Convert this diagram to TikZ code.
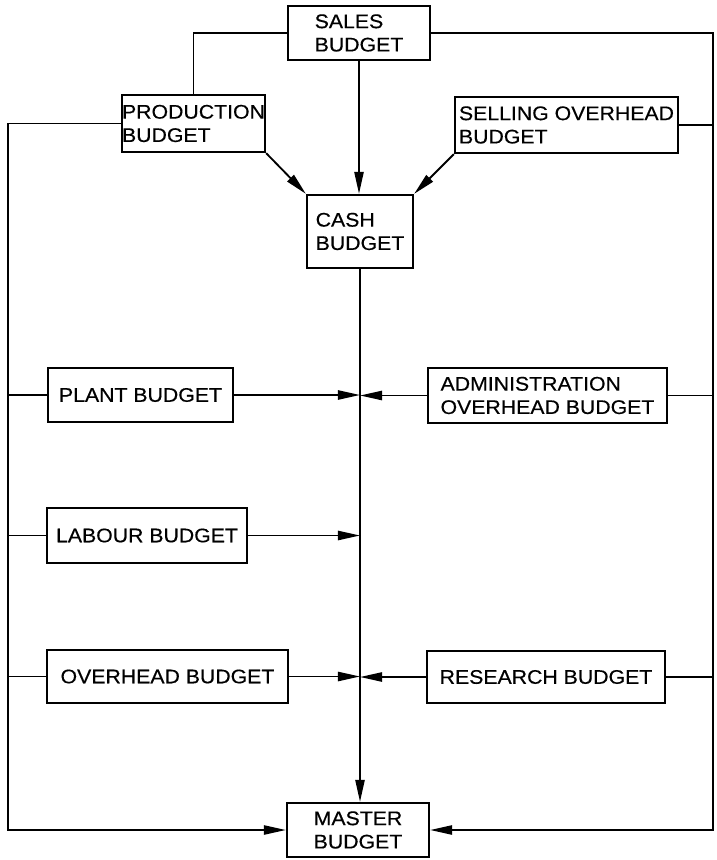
\documentclass[tikz,border=0pt]{standalone}
\usepackage{fontspec}
\setmainfont{Liberation Sans}[FakeStretch=1.08,FakeBold=0.4]
\usepackage{tikz}
\usetikzlibrary{arrows.meta}

\begin{document}
\begin{tikzpicture}[
x=0.025cm,y=-0.025cm,
budgetbox/.style={
rectangle,
draw=black,
line width=1.6pt,
inner sep=0pt,
align=left,
font=\fontsize{14}{16.6}\selectfont},
boxsize/.style 2 args={minimum width=#1cm,minimum height=#2cm},
myline/.style={line width=1.3pt},
myarrow/.style={line width=1.3pt,-{Triangle[length=5.5mm,width=2.3mm]}}
]
\useasboundingbox (0,0) rectangle (716,860);
\node[budgetbox,boxsize={3.55}{1.35}] (sales) at (359,33) {SALES\\BUDGET};
      \node[budgetbox,boxsize={3.575}{1.425}] (prod) at (193.5,123.5) {PRODUCTION\\BUDGET};
      \node[budgetbox,boxsize={5.575}{1.4}] (sell) at (566.5,125) {SELLING OVERHEAD\\BUDGET};
      \node[budgetbox,boxsize={2.65}{1.825}] (cash) at (360,231.5) {CASH\\BUDGET};
      \node[budgetbox,boxsize={4.625}{1.35}] (plant) at (140.5,395) {PLANT BUDGET};
      \node[budgetbox,boxsize={5.975}{1.375}] (admin) at (547.5,395.5) {ADMINISTRATION\\OVERHEAD BUDGET};
      \node[budgetbox,boxsize={5.0}{1.375}] (labour) at (147,535.5) {LABOUR BUDGET};
      \node[budgetbox,boxsize={6.025}{1.325}] (ovh) at (167.5,676.5) {OVERHEAD BUDGET};
      \node[budgetbox,boxsize={5.95}{1.3}] (research) at (546,677) {RESEARCH BUDGET};
      \node[budgetbox,boxsize={3.55}{1.35},align=center] (master) at (358,830) {MASTER\\BUDGET};
      \coordinate (lrail) at (8,830);
      \coordinate (rrail) at (713,830);
      % outer rails
      \draw[myline] (sales.west) -| (prod.north);
      \draw[myarrow] (sales.east) -| (rrail) -- (master.east);
      \draw[myarrow] (prod.west) -| (lrail) -- (master.west);
      \draw[myline] (sell.east) -- (sell.east -| rrail);
      % into cash budget
      \draw[myarrow] (sales.south) -- (sales.south |- cash.north);
      \draw[myarrow] (prod.south east) -- (cash.north west);
      \draw[myarrow] (sell.south west) -- (cash.north east);
      \draw[myarrow] (cash.south) -- (cash.south |- master.north);
      % side budgets
      \foreach \b in {plant,labour,ovh}{
       \draw[myline] (\b.west -| lrail) -- (\b.west);
       \draw[myarrow] (\b.east) -- (\b.east -| cash.south);}
      \foreach \b in {admin,research}{
       \draw[myline] (\b.east) -- (\b.east -| rrail);
       \draw[myarrow] (\b.west) -- (\b.west -| cash.south);}
\end{tikzpicture}
\end{document}
